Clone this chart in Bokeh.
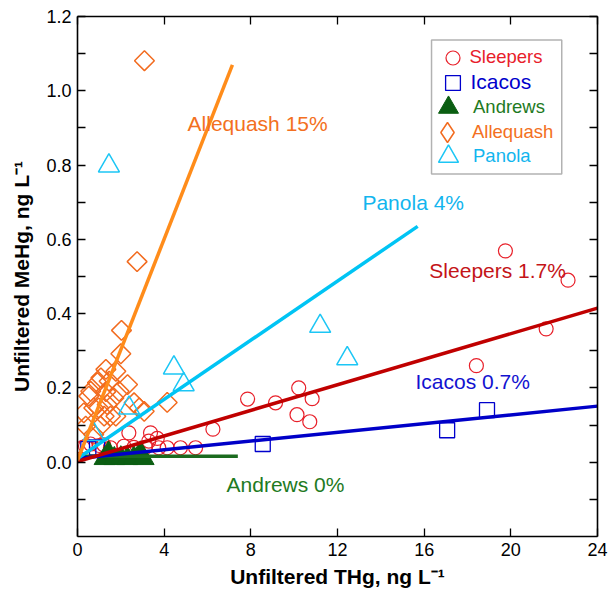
import math
from bokeh.plotting import figure
from bokeh.models import (Range1d, LinearAxis, FixedTicker, PrintfTickFormatter, CustomJSTickFormatter,
                          Label, Legend, LegendItem, BoxAnnotation, ColumnDataSource)
from bokeh.embed import file_html
from bokeh.resources import INLINE

# ---------------- data ----------------
sleepers_x = [0.25, 0.37, 0.6, 1.0, 1.21, 1.52, 2.14, 2.37, 2.6, 3.14, 3.29, 3.37, 3.68, 3.75,
              4.14, 4.75, 5.45, 6.25, 7.85, 9.14, 10.13, 10.21, 10.72, 10.83, 18.41, 19.75, 21.63, 22.64]
sleepers_y = [0.040, 0.043, 0.049, 0.045, 0.047, 0.039, 0.043, 0.079, 0.040, 0.040, 0.057, 0.079, 0.064, 0.039,
              0.039, 0.039, 0.039, 0.089, 0.170, 0.160, 0.128, 0.200, 0.109, 0.171, 0.260, 0.569, 0.359, 0.490]

icacos_x = [0.5, 0.9, 8.55, 17.06, 18.9]
icacos_y = [0.035, 0.040, 0.049, 0.086, 0.140]

andrews_x = [1.25, 1.43, 1.7, 2.0, 2.3, 2.6, 2.9, 3.05]
andrews_y = [0.010, 0.025, 0.010, 0.012, 0.010, 0.012, 0.025, 0.010]

allequash_x = [0.29, 0.38, 0.52, 0.61, 0.75, 0.75, 0.92, 0.98, 1.06, 1.08, 1.23, 1.31, 1.31, 1.37, 1.46,
               1.52, 1.68, 1.77, 1.77, 1.92, 2.0, 2.03, 2.31, 2.61, 2.75, 2.85, 3.08, 3.09, 4.14]
allequash_y = [0.133, 0.097, 0.178, 0.191, 0.075, 0.146, 0.214, 0.146, 0.097, 0.227, 0.124, 0.250, 0.190, 0.155, 0.218,
               0.124, 0.173, 0.245, 0.124, 0.191, 0.292, 0.355, 0.209, 0.160, 0.540, 0.146, 0.137, 1.081, 0.161]

panola_x = [0.75, 1.45, 2.38, 4.45, 4.9, 11.2, 12.45]
panola_y = [0.075, 0.798, 0.146, 0.254, 0.209, 0.366, 0.279]

# fitted lines (end points)
allequash_fit_x = [0.0, 7.15]
allequash_fit_y = [0.005, 1.07]
panola_fit_x = [0.0, 15.7]
panola_fit_y = [0.010, 0.635]
sleepers_fit_x = [0.0, 24.0]
sleepers_fit_y = [0.002, 0.415]
icacos_fit_x = [0.0, 24.0]
icacos_fit_y = [0.010, 0.151]
andrews_fit_x = [0.0, 7.4]
andrews_fit_y = [0.016, 0.016]

x_ticks = [0, 4, 8, 12, 16, 20, 24]
y_ticks = [0.0, 0.2, 0.4, 0.6, 0.8, 1.0, 1.2]
y_minor = [-0.1, 0.1, 0.3, 0.5, 0.7, 0.9, 1.1]

# ---------------- styling ----------------
FONT = "Liberation Sans"
C_SLP_M, C_SLP_L, C_SLP_T = "#E8202A", "#C00000", "#C41418"
C_ICA_M, C_ICA_L, C_ICA_T = "#0000CC", "#0000C8", "#1212D0"
C_AND_M, C_AND_L, C_AND_T = "#0B5E12", "#1B6B1F", "#1E7A22"
C_ALL_M, C_ALL_L, C_ALL_T = "#F26B1F", "#FF8C1A", "#F37021"
C_PAN_M, C_PAN_L, C_PAN_T = "#1CC6F5", "#00C4F4", "#12B5EE"

FL, FB, FT = 77, 536, 16  # frame left, bottom, top in canvas px

p = figure(width=609, height=594, output_backend="svg", toolbar_location=None,
           x_range=Range1d(0, 24), y_range=Range1d(-0.2, 1.2),
           x_axis_type=None, y_axis_type=None,
           min_border_left=FL, min_border_right=12, min_border_top=FT, min_border_bottom=594 - FB)
p.grid.visible = False
p.outline_line_color = None
p.background_fill_color = "white"
p.border_fill_color = "white"


def style_axis(ax, labels=True):
    ax.axis_line_width = 1.6
    ax.axis_line_color = "black"
    ax.major_tick_in = 8
    ax.major_tick_out = 0
    ax.minor_tick_in = 8
    ax.minor_tick_out = 0
    ax.major_tick_line_width = 1.3
    ax.minor_tick_line_width = 1.3
    ax.major_label_text_font = FONT
    ax.major_label_text_font_size = "18px" if labels else "1px"
    ax.major_label_text_color = "black"
    ax.major_label_standoff = 6 if labels else 0
    ax.axis_label_text_font = FONT
    ax.axis_label_text_font_style = "bold"
    ax.axis_label_text_font_size = "21px"
    ax.axis_label_text_color = "black"


xt = FixedTicker(ticks=x_ticks)
yt = FixedTicker(ticks=y_ticks, minor_ticks=y_minor)
blank = CustomJSTickFormatter(code="return ''")

xb = LinearAxis(ticker=xt, formatter=PrintfTickFormatter(format="%d"),
                axis_label="Unfiltered THg, ng L\u207b\u00b9")
style_axis(xb)
xb.axis_label_standoff = 6
p.add_layout(xb, "below")

yl = LinearAxis(ticker=yt, formatter=PrintfTickFormatter(format="%.1f"),
                axis_label="Unfiltered MeHg, ng L\u207b\u00b9")
style_axis(yl)
yl.axis_label_standoff = 10
p.add_layout(yl, "left")

xa = LinearAxis(ticker=xt, formatter=blank)
style_axis(xa, labels=False)
p.add_layout(xa, "above")

yr = LinearAxis(ticker=yt, formatter=blank)
style_axis(yr, labels=False)
p.add_layout(yr, "right")

# ---------------- points ----------------
all_src = ColumnDataSource(data=dict(x=allequash_x, y=allequash_y))
r_all = p.scatter("x", "y", source=all_src, marker="square", angle=math.pi / 4, size=14,
                  fill_color=None, line_color=C_ALL_M, line_width=1.5)
r_slp = p.scatter(sleepers_x, sleepers_y, marker="circle", size=14,
                  fill_color=None, line_color=C_SLP_M, line_width=1.2)
r_ica = p.scatter(icacos_x, icacos_y, marker="square", size=15,
                  fill_color=None, line_color=C_ICA_M, line_width=1.3)
r_pan = p.scatter(panola_x, panola_y, marker="triangle", size=21,
                  fill_color=None, line_color=C_PAN_M, line_width=1.5)
r_and = p.scatter(andrews_x, andrews_y, marker="triangle", size=21,
                  fill_color=C_AND_M, line_color=C_AND_M, line_width=1)
# legend swatch for the diamonds (legend swatches ignore marker rotation);
# zero-size markers, so nothing of it shows in the plot area
r_all_key = p.scatter("x", "y", source=all_src, marker="diamond", size=0,
                      fill_color=None, line_color=C_ALL_M, line_width=1.5)

# ---------------- fitted lines ----------------
p.line(andrews_fit_x, andrews_fit_y, line_color=C_AND_L, line_width=3.5)
p.line(icacos_fit_x, icacos_fit_y, line_color=C_ICA_L, line_width=3.5)
p.line(sleepers_fit_x, sleepers_fit_y, line_color=C_SLP_L, line_width=3.5)
p.line(panola_fit_x, panola_fit_y, line_color=C_PAN_L, line_width=3.5)
p.line(allequash_fit_x, allequash_fit_y, line_color=C_ALL_L, line_width=3.5)

# ---------------- line labels ----------------
for txt, x, y, c in [("Allequash 15%", 5.08, 0.911, C_ALL_T),
                     ("Panola 4%", 13.15, 0.698, C_PAN_T),
                     ("Sleepers 1.7%", 16.24, 0.515, C_SLP_T),
                     ("Icacos 0.7%", 15.6, 0.216, C_ICA_T),
                     ("Andrews 0%", 6.88, -0.059, C_AND_T)]:
    p.add_layout(Label(x=x, y=y, text=txt, text_baseline="middle", text_align="left",
                       text_font=FONT, text_font_size="21px", text_color=c))

# ---------------- legend ----------------
p.add_layout(BoxAnnotation(left=16.34, right=22.35, bottom=0.776, top=1.137,
                           fill_alpha=0, line_color="black", line_width=1.5))

for rend, lab, col, cx, cy, box, fs in [(r_slp, "Sleepers", C_SLP_M, 452, 57, 35, "18.5px"),
                                        (r_ica, "Icacos", C_ICA_M, 452, 82, 37, "21px"),
                                        (r_and, "Andrews", C_AND_T, 448, 107, 50, "18.5px"),
                                        (r_all_key, "Allequash", C_ALL_T, 447, 132, 50, "18.5px"),
                                        (r_pan, "Panola", C_PAN_T, 448, 156, 50, "18.5px")]:
    lg = Legend(items=[LegendItem(label=lab, renderers=[rend])],
                location=(cx - box / 2 - FL, FB - (cy + box / 2)),
                glyph_width=box, glyph_height=box, label_height=box,
                label_standoff=0,
                margin=0, padding=0, spacing=0,
                label_text_font=FONT, label_text_font_size=fs, label_text_color=col,
                background_fill_alpha=0, border_line_alpha=0)
    p.add_layout(lg)

open("out.html", "w").write(file_html(p, INLINE))
